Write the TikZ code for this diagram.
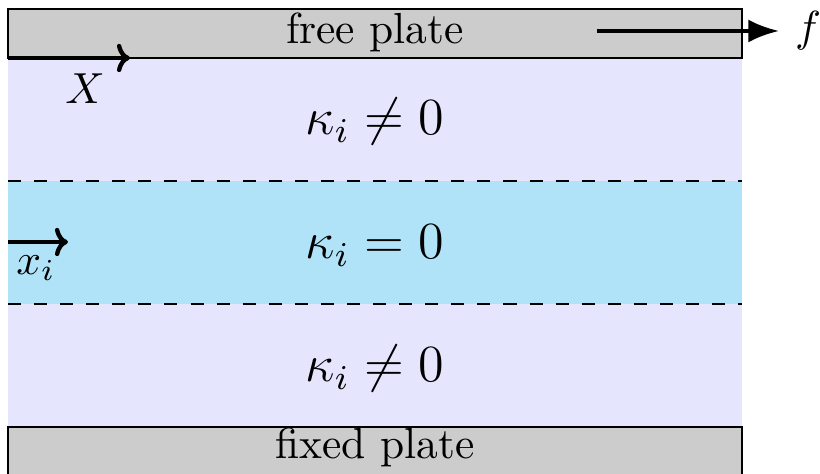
\documentclass[tikz,border=0pt]{standalone}
\usepackage{amsfonts,amssymb,amsmath}
\usepackage{xcolor}
\usetikzlibrary{arrows.meta}
\definecolor{fluid}{RGB}{229,229,253}
\definecolor{layer}{RGB}{176,227,248}
\definecolor{plate}{RGB}{204,204,204}

\begin{document}
\begin{tikzpicture}[x=0.00808cm,y=-0.00808cm,>={To[length=3pt,width=6.5pt]},
kap/.style={font=\large,anchor=base}]
\useasboundingbox(0,0)rectangle(820,474);
\fill[fluid](8,58)rectangle(742,427);
\fill[layer](8,181)rectangle(742,304);
\draw[dashed](8,181)--(742,181)
(8,304)--(742,304);
\draw[fill=plate,line width=0.5pt](8,9)rectangle(742,58);
\draw[fill=plate,line width=0.5pt](8,427)rectangle(742,490);
\node[anchor=base](free)at(375,44){free plate};
\node[anchor=base](fixed)at(375,459){fixed plate};
\node[kap](top)at(375,135){$\kappa_i\neq0$};
\node[kap](mid)at(375,259){$\kappa_i=0$};
\node[kap](bot)at(375,382){$\kappa_i\neq0$};
\coordinate(X0)at(8,58);
\coordinate(X1)at(130,58);
\coordinate(x0)at(8,242);
\coordinate(x1)at(68,242);
\coordinate(f0)at(597,31);
\coordinate(f1)at(779,31);
\draw[->,line width=1pt](X0)--(X1);
\draw[->,line width=1pt](x0)--(x1);
\draw[-Latex,line width=0.9pt](f0)--(f1);
\node(Xlab)at(85,89){$X$};
\node(xlab)at(36,268){$x_i$};
\node(flab)at(808,31){$f$};
\end{tikzpicture}
\end{document}
